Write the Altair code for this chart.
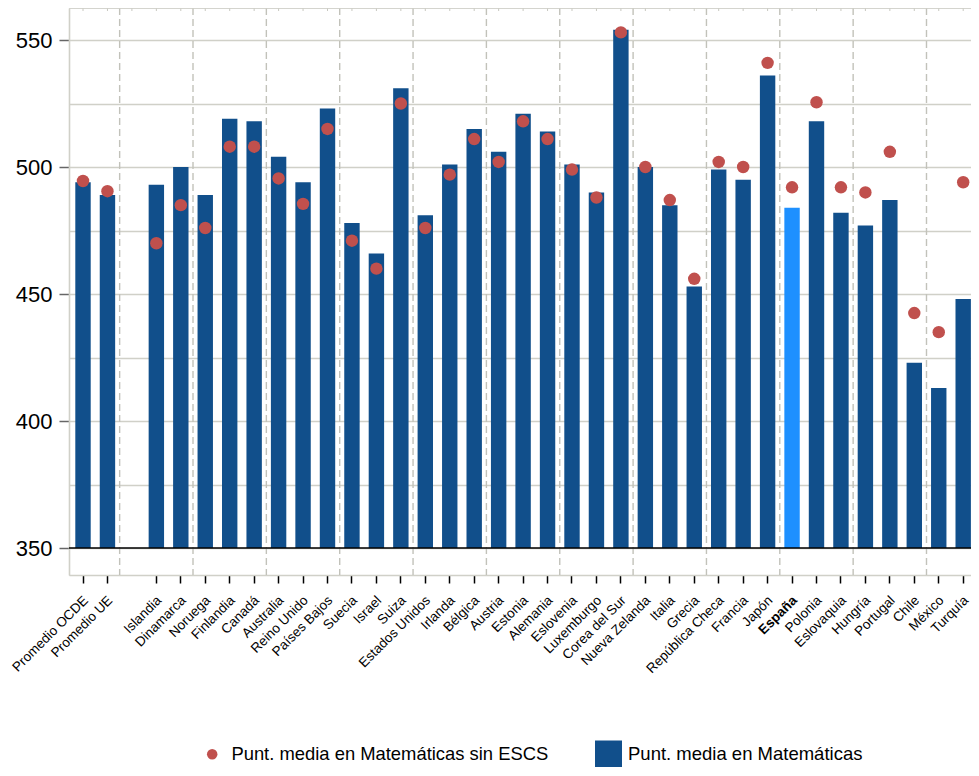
import altair as alt
import pandas as pd

# ---- data ----
paises = ["Promedio OCDE", "Promedio UE", "Islandia", "Dinamarca", "Noruega",
          "Finlandia", "Canadá", "Australia", "Reino Unido", "Países Bajos",
          "Suecia", "Israel", "Suiza", "Estados Unidos", "Irlanda", "Bélgica",
          "Austria", "Estonia", "Alemania", "Eslovenia", "Luxemburgo",
          "Corea del Sur", "Nueva Zelanda", "Italia", "Grecia",
          "República Checa", "Francia", "Japón", "España", "Polonia",
          "Eslovaquia", "Hungría", "Portugal", "Chile", "México", "Turquía"]

mat = [494, 489, 493, 500, 489, 519, 518, 504, 494, 523, 478, 466, 531, 481,
       501, 515, 506, 521, 514, 501, 490, 554, 500, 485, 453, 499, 495, 536,
       484, 518, 482, 477, 487, 423, 413, 448]

sin_escs = [494.5, 490.5, 470, 485, 476, 508, 508, 495.5, 485.5, 515, 471,
            460, 525, 476, 497, 511, 502, 518, 511, 499, 488, 553, 500, 487,
            456, 502, 500, 541, 492, 525.5, 492, 490, 506, 442.5, 435, 494]

serie_barras = "Punt. media en Matemáticas"
serie_puntos = "Punt. media en Matemáticas sin ESCS"

y_ticks = [350, 375, 400, 425, 450, 475, 500, 525, 550]
baseline = [350]

# slots on the x axis (an empty slot after the two averages)
slots = paises[:2] + [" "] + paises[2:]
separadores = slots[1::3]

df_bar = pd.DataFrame({"pais": paises, "valor": mat, "serie": serie_barras})
df_pt = pd.DataFrame({"pais": paises, "valor": sin_escs, "serie2": serie_puntos})
df_slots = pd.DataFrame({"pais": slots})
df_sep = pd.DataFrame({"pais": separadores})
df_base = pd.DataFrame({"valor": baseline})

FONT = "Liberation Sans, Arial, Helvetica, sans-serif"
GRID = "#D0D0C8"
BLUE = "#114F8B"
LIGHT = "#1E90FF"
RED = "#C0504D"

x_scale = alt.Scale(domain=slots, paddingInner=0.37, paddingOuter=0.131, align=0.984)
x_axis = alt.Axis(
    values=paises, title=None, labelAngle=315, labelFontSize=13.5,
    labelColor="#000000", labelPadding=10, labelOffset=-2, labelLimit=300,
    labelFontWeight={"condition": {"test": "datum.value === 'España'", "value": "bold"},
                     "value": "normal"},
    tickColor="#000000", tickSize=8, tickWidth=1.5,
    domainColor=GRID, domainWidth=1.6, grid=False,
)
x_enc = alt.X("pais:N", scale=x_scale, axis=x_axis, sort=slots)

y_scale = alt.Scale(domain=[339.4, 562.6], nice=False, zero=False)
y_axis = alt.Axis(
    values=y_ticks, title=None, labelFontSize=22, labelColor="#000000",
    labelPadding=7,
    labelExpr="datum.value % 50 === 0 ? datum.label : ''",
    tickSize=10, tickWidth=1.5,
    tickColor={"condition": {"test": "datum.value % 50 !== 0", "value": "rgba(0,0,0,0)"},
               "value": "#666666"},
    domainColor=GRID, domainWidth=1.6,
    grid=True, gridColor=GRID, gridWidth=1.6,
)

sep = alt.Chart(df_sep).mark_rule(
    color="#C2C2BA", strokeWidth=1.4, strokeDash=[7, 4], xOffset=12.2
).encode(x=x_enc)

topticks = alt.Chart(df_slots).mark_rule(color="#C8C8C0", strokeWidth=1).encode(
    x=x_enc, y=alt.value(0), y2=alt.value(3)
)

topframe = alt.Chart(df_base).mark_rule(color=GRID, strokeWidth=1.6).encode(
    y=alt.value(0)
)

bars = alt.Chart(df_bar).mark_bar().encode(
    x=x_enc,
    y=alt.Y("valor:Q", scale=y_scale, axis=y_axis),
    y2=alt.datum(350),
    color=alt.condition(
        "datum.pais === 'España'",
        alt.value(LIGHT),
        alt.Color("serie:N", scale=alt.Scale(domain=[serie_barras], range=[BLUE]),
                  legend=alt.Legend(title=None, orient="none", legendX=526, legendY=732.5,
                                    symbolType="square", symbolSize=729,
                                    symbolStrokeWidth=0, labelFontSize=18.5,
                                    labelColor="#000000", labelOffset=6,
                                    labelLimit=500, padding=0)),
    ),
)

points = alt.Chart(df_pt).mark_circle(size=155, opacity=1).encode(
    x=x_enc,
    y=alt.Y("valor:Q", scale=y_scale),
    fill=alt.Fill("serie2:N", scale=alt.Scale(domain=[serie_puntos], range=[RED]),
                  legend=alt.Legend(title=None, orient="none", legendX=134, legendY=737,
                                    symbolType="circle", symbolSize=110,
                                    symbolStrokeWidth=0, labelFontSize=18.4,
                                    labelColor="#000000", labelOffset=10,
                                    labelLimit=500, padding=0)),
)

base_line = alt.Chart(df_base).mark_rule(color="#000000", strokeWidth=1.5).encode(
    y=alt.Y("valor:Q", scale=y_scale)
)

chart = alt.layer(sep, topticks, topframe, bars, points, base_line).resolve_scale(
    color="independent"
).properties(
    width=902, height=567,
    autosize=alt.AutoSizeParams(type="none"),
    padding={"left": 61, "top": 0, "right": 0, "bottom": 192},
).configure_view(stroke=None).configure(font=FONT)

chart.save("out.html", embed_options={"renderer": "svg", "actions": False})
